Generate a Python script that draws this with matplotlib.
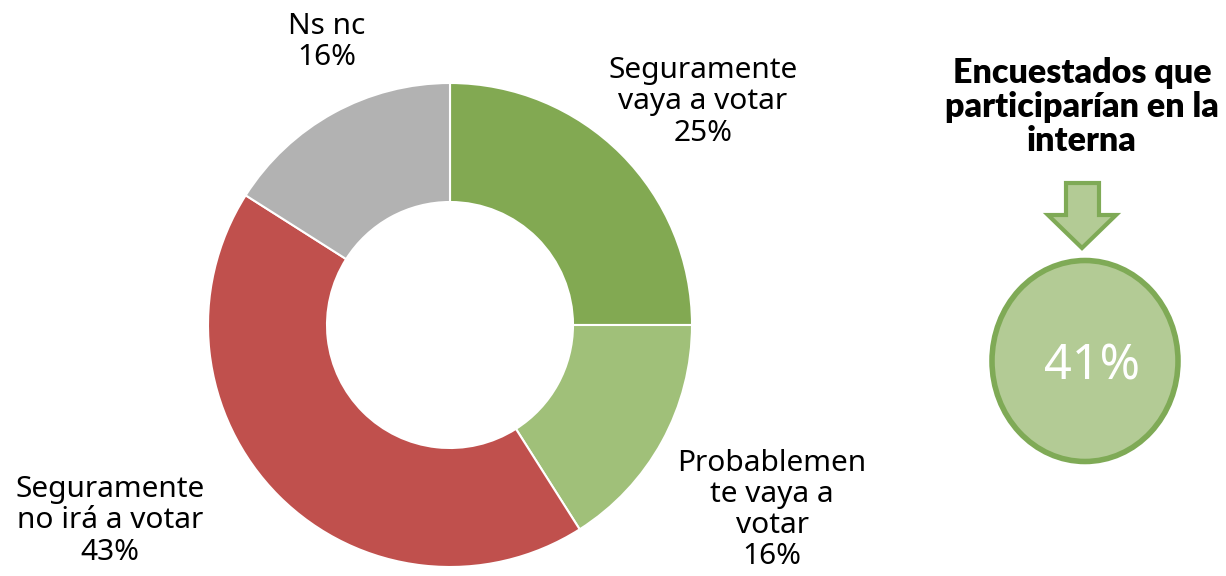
import matplotlib.pyplot as plt
from matplotlib.patches import Ellipse, Polygon

plt.rcParams['font.family'] = ['Noto Sans', 'DejaVu Sans']

# donut data, clockwise from the top
labels = ["Seguramente\nvaya a votar", "Probablemen\nte vaya a\nvotar", "Seguramente\nno irá a votar", "Ns nc"]
values = [25, 16, 43, 16]
colors = ["#82A952", "#A0C079", "#C0504D", "#B2B2B2"]
label_pos = [(703, 474), (772, 66), (110, 55), (327, 534)]

summary_title = "Encuestados que\nparticiparían en la\ninterna"
summary_value = 41

fig = plt.figure(figsize=(12.26, 5.76), dpi=100)
ax = fig.add_axes([0, 0, 1, 1])
ax.set_xlim(0, 1226)
ax.set_ylim(0, 576)
ax.set_aspect('equal')
ax.axis('off')

ax.pie(values, colors=colors, startangle=90, counterclock=False,
       center=(450, 251), radius=242,
       wedgeprops=dict(width=119, edgecolor='white', linewidth=1.5))
ax.set_xlim(0, 1226)
ax.set_ylim(0, 576)

for lab, v, (x, y) in zip(labels, values, label_pos):
    ax.text(x, y, f"{lab}\n{v}%", ha='center', va='center', fontsize=21.5,
            linespacing=1.1, color='black')

ax.text(1082, 469, summary_title, ha='center', va='center', fontsize=24.5,
        family=['Lato', 'DejaVu Sans'], fontweight='heavy', linespacing=1.07)

# arrow pointing down to the circle
arrow = Polygon([(1066, 393), (1099, 393), (1099, 361), (1116, 361),
                 (1082, 328), (1048, 361), (1066, 361)], closed=True,
                facecolor='#B3CB95', edgecolor='#7FAA56', linewidth=3)
ax.add_patch(arrow)

circ = Ellipse((1085, 215), 186, 201, facecolor='#B3CB95',
               edgecolor='#7FAA56', linewidth=4)
ax.add_patch(circ)
ax.text(1092, 209, f"{summary_value}%", ha='center', va='center',
        fontsize=35, color='white')

fig.savefig("out.png", dpi=100)
